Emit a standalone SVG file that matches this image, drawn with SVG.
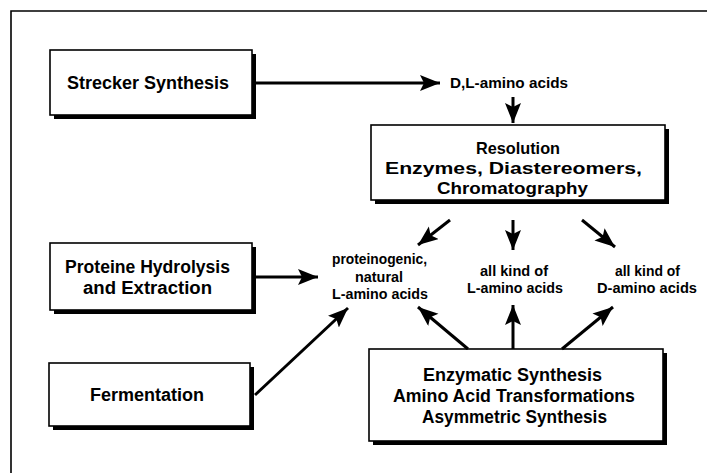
<svg xmlns="http://www.w3.org/2000/svg" width="707" height="473" viewBox="0 0 707 473">
<defs>
<style>
.frame{fill:none;stroke:#000;stroke-width:1.6}
.shadow{fill:#000}
.box{fill:#fff;stroke:#000;stroke-width:1.6}
.t{font-family:"Liberation Sans",Arial,sans-serif;font-weight:bold;fill:#000;text-anchor:start}
.big{font-size:18px}
.mid{font-size:16.5px}
.small{font-size:15px}
.c{stroke:#000;stroke-width:3;fill:none;marker-end:url(#ah)}
</style>
<marker id="ah" markerUnits="userSpaceOnUse" markerWidth="22" markerHeight="18" refX="20" refY="8" orient="auto">
<path d="M0,0 L20,8 L0,16 L4,8 z" fill="#000"/>
</marker>
</defs>
<rect width="707" height="473" fill="#fff"/>
<path class="frame" d="M11,473 L11,11 L707,11"/>

<g id="strecker">
<rect class="shadow" x="54" y="54" width="202" height="65"/>
<rect class="box" x="50" y="50" width="202" height="65"/>
<text class="t big" x="67" y="89" textLength="162" lengthAdjust="spacingAndGlyphs">Strecker Synthesis</text>
</g>

<g id="dl">
<text class="t small" x="450" y="88" textLength="118" lengthAdjust="spacingAndGlyphs">D,L-amino acids</text>
</g>

<g id="resolution">
<rect class="shadow" x="375" y="129" width="294" height="75"/>
<rect class="box" x="371" y="125" width="294" height="75"/>
<text class="t mid" x="476" y="154" textLength="84" lengthAdjust="spacingAndGlyphs">Resolution</text>
<text class="t mid" x="385" y="174" textLength="257" lengthAdjust="spacingAndGlyphs">Enzymes, Diastereomers,</text>
<text class="t mid" x="437" y="194" textLength="151" lengthAdjust="spacingAndGlyphs">Chromatography</text>
</g>

<g id="proteine">
<rect class="shadow" x="54" y="247" width="202" height="67"/>
<rect class="box" x="50" y="243" width="202" height="67"/>
<text class="t big" x="65" y="273" textLength="165" lengthAdjust="spacingAndGlyphs">Proteine Hydrolysis</text>
<text class="t big" x="83" y="294" textLength="129" lengthAdjust="spacingAndGlyphs">and Extraction</text>
</g>

<g id="fermentation">
<rect class="shadow" x="53" y="367" width="201" height="63"/>
<rect class="box" x="49" y="363" width="201" height="63"/>
<text class="t big" x="90" y="401" textLength="114" lengthAdjust="spacingAndGlyphs">Fermentation</text>
</g>

<g id="natural">
<text class="t small" x="332" y="264" textLength="95" lengthAdjust="spacingAndGlyphs">proteinogenic,</text>
<text class="t small" x="355" y="282" textLength="48" lengthAdjust="spacingAndGlyphs">natural</text>
<text class="t small" x="332" y="299" textLength="96" lengthAdjust="spacingAndGlyphs">L-amino acids</text>
</g>

<g id="allL">
<text class="t small" x="480" y="276" textLength="68" lengthAdjust="spacingAndGlyphs">all kind of</text>
<text class="t small" x="467" y="293" textLength="96" lengthAdjust="spacingAndGlyphs">L-amino acids</text>
</g>

<g id="allD">
<text class="t small" x="615" y="276" textLength="65" lengthAdjust="spacingAndGlyphs">all kind of</text>
<text class="t small" x="597" y="293" textLength="100" lengthAdjust="spacingAndGlyphs">D-amino acids</text>
</g>

<g id="enzymatic">
<rect class="shadow" x="373" y="353" width="294" height="92"/>
<rect class="box" x="369" y="349" width="294" height="92"/>
<text class="t big" x="423" y="381" textLength="179" lengthAdjust="spacingAndGlyphs">Enzymatic Synthesis</text>
<text class="t big" x="393" y="402" textLength="242" lengthAdjust="spacingAndGlyphs">Amino Acid Transformations</text>
<text class="t big" x="422" y="423" textLength="185" lengthAdjust="spacingAndGlyphs">Asymmetric Synthesis</text>
</g>

<g id="connectors">
<line class="c" x1="256" y1="83" x2="440" y2="83"/>
<line class="c" x1="513" y1="97" x2="513" y2="123"/>
<line class="c" x1="450" y1="220" x2="418" y2="245"/>
<line class="c" x1="513" y1="220" x2="513" y2="250"/>
<line class="c" x1="582" y1="220" x2="615" y2="247"/>
<line class="c" x1="256" y1="277" x2="318" y2="277"/>
<line class="c" x1="255" y1="395" x2="348" y2="308"/>
<line class="c" x1="468" y1="349" x2="418" y2="307"/>
<line class="c" x1="513" y1="349" x2="513" y2="305"/>
<line class="c" x1="562" y1="349" x2="613" y2="307"/>
</g>
</svg>
